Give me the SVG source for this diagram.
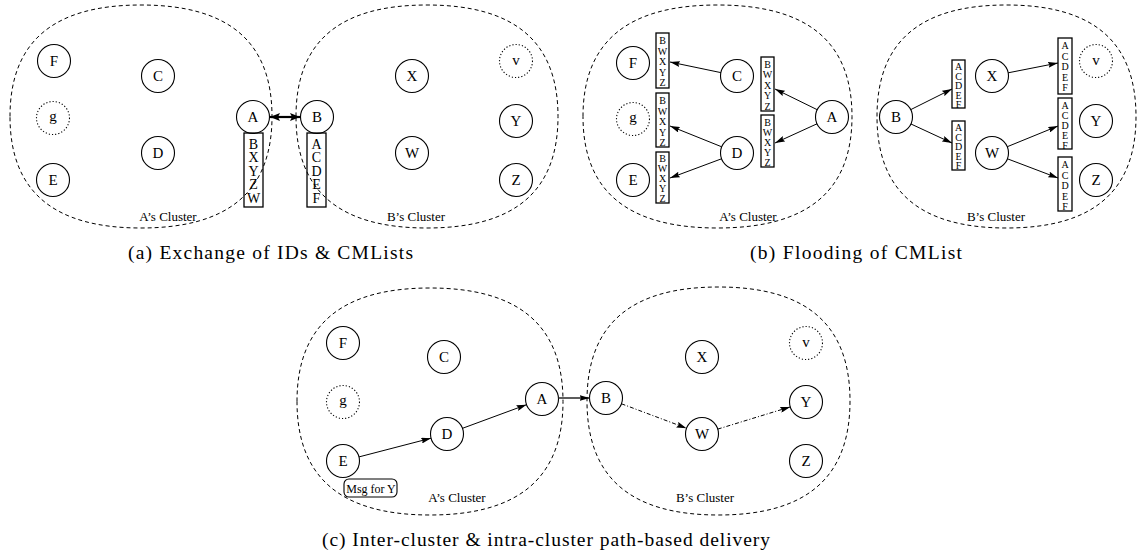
<svg xmlns="http://www.w3.org/2000/svg" width="1138" height="557" viewBox="0 0 1138 557">
<style>
text{font-family:"Liberation Serif","Times New Roman",Tinos,"DejaVu Serif","Noto Serif",Times,serif;fill:#000}
.blob{fill:none;stroke:#000;stroke-width:1;stroke-dasharray:4 3}
.n{fill:none;stroke:#000;stroke-width:1.1}
.nd{fill:none;stroke:#000;stroke-width:1.1;stroke-dasharray:1.2 2}
.t{font-size:15px;text-anchor:middle}
.cl{font-size:13px;text-anchor:middle}
.bx{fill:none;stroke:#000;stroke-width:1.3}
.bt{font-size:14px;text-anchor:middle}
.bs{font-size:10px;text-anchor:middle}
.cap{font-size:19.5px}
.e{fill:none;stroke:#000;stroke-width:1;marker-end:url(#ah)}
.dd{fill:none;stroke:#000;stroke-width:1;stroke-dasharray:4 2 1 2;marker-end:url(#ah)}
</style>
<defs>
<marker id="ah" markerUnits="userSpaceOnUse" markerWidth="10" markerHeight="6" refX="10" refY="3" orient="auto">
<path d="M0,0 L10,3 L0,6 L1.5,3 z" fill="#000"/>
</marker>
<marker id="ahb" markerUnits="userSpaceOnUse" markerWidth="10" markerHeight="8" refX="10" refY="4" orient="auto-start-reverse">
<path d="M0,0 L10,4 L0,8 L2,4 z" fill="#000"/>
</marker>
</defs>

<!-- Panel (a) -->
<g id="a-clusters">
<path class="blob" d="M10,116.5 C10,41.8 53.2,5 141,5 C228.8,5 272,41.8 272,116.5 C272,191.2 228.8,228 141,228 C53.2,228 10,191.2 10,116.5 Z"/>
<path class="blob" d="M296,116.5 C296,41.8 339.2,5 427,5 C514.8,5 558,41.8 558,116.5 C558,191.2 514.8,228 427,228 C339.2,228 296,191.2 296,116.5 Z"/>
<text class="cl" x="168" y="221">A’s Cluster</text>
<text class="cl" x="416" y="221">B’s Cluster</text>
</g>
<g id="a-F"><circle class="n" cx="54" cy="61" r="16.5"/><text class="t" x="54" y="66">F</text></g>
<g id="a-g"><circle class="nd" cx="53" cy="118" r="16.5"/><text class="t" x="53" y="121">g</text></g>
<g id="a-E"><circle class="n" cx="53" cy="180" r="16.5"/><text class="t" x="53" y="185">E</text></g>
<g id="a-C"><circle class="n" cx="158" cy="76" r="16.5"/><text class="t" x="158" y="81">C</text></g>
<g id="a-D"><circle class="n" cx="158" cy="153" r="16.5"/><text class="t" x="158" y="158">D</text></g>
<g id="a-A"><circle class="n" cx="253" cy="117" r="16.5"/><text class="t" x="253" y="122">A</text></g>
<g id="a-B"><circle class="n" cx="317" cy="117" r="16.5"/><text class="t" x="317" y="122">B</text></g>
<g id="a-X"><circle class="n" cx="412" cy="76" r="16.5"/><text class="t" x="412" y="81">X</text></g>
<g id="a-W"><circle class="n" cx="412" cy="153" r="16.5"/><text class="t" x="412" y="158">W</text></g>
<g id="a-v"><circle class="nd" cx="516" cy="61" r="16.5"/><text class="t" x="516" y="65">v</text></g>
<g id="a-Y"><circle class="n" cx="516" cy="121" r="16.5"/><text class="t" x="516" y="126">Y</text></g>
<g id="a-Z"><circle class="n" cx="516" cy="180" r="16.5"/><text class="t" x="516" y="185">Z</text></g>
<g id="a-listA">
<rect class="bx" x="244" y="133" width="19" height="74"/>
<text class="bt" x="253.5" y="149">B</text><text class="bt" x="253.5" y="162">X</text><text class="bt" x="253.5" y="176">Y</text><text class="bt" x="253.5" y="189">Z</text><text class="bt" x="253.5" y="203">W</text>
</g>
<g id="a-listB">
<rect class="bx" x="307" y="133" width="19" height="74"/>
<text class="bt" x="316.5" y="149">A</text><text class="bt" x="316.5" y="162">C</text><text class="bt" x="316.5" y="176">D</text><text class="bt" x="316.5" y="189">E</text><text class="bt" x="316.5" y="203">F</text>
</g>

<!-- Panel (b) -->
<g id="b-clusters">
<path class="blob" d="M583,116.5 C583,41.8 627.4,5 717.5,5 C807.6,5 852,41.8 852,116.5 C852,191.2 807.6,228 717.5,228 C627.4,228 583,191.2 583,116.5 Z"/>
<path class="blob" d="M877,116.5 C877,41.8 919.7,5 1006.5,5 C1093.3,5 1136,41.8 1136,116.5 C1136,191.2 1093.3,228 1006.5,228 C919.7,228 877,191.2 877,116.5 Z"/>
<text class="cl" x="748" y="221">A’s Cluster</text>
<text class="cl" x="996" y="221">B’s Cluster</text>
</g>
<g id="b-F"><circle class="n" cx="633" cy="63" r="16.5"/><text class="t" x="633" y="68">F</text></g>
<g id="b-g"><circle class="nd" cx="633" cy="119" r="16.5"/><text class="t" x="633" y="122">g</text></g>
<g id="b-E"><circle class="n" cx="633" cy="180" r="16.5"/><text class="t" x="633" y="185">E</text></g>
<g id="b-C"><circle class="n" cx="737" cy="76" r="16.5"/><text class="t" x="737" y="81">C</text></g>
<g id="b-D"><circle class="n" cx="737" cy="153" r="16.5"/><text class="t" x="737" y="158">D</text></g>
<g id="b-A"><circle class="n" cx="832" cy="117" r="16.5"/><text class="t" x="832" y="122">A</text></g>
<g id="b-B"><circle class="n" cx="896" cy="117" r="16.5"/><text class="t" x="896" y="122">B</text></g>
<g id="b-X"><circle class="n" cx="992" cy="76" r="16.5"/><text class="t" x="992" y="81">X</text></g>
<g id="b-W"><circle class="n" cx="992" cy="153" r="16.5"/><text class="t" x="992" y="158">W</text></g>
<g id="b-v"><circle class="nd" cx="1096" cy="61" r="16.5"/><text class="t" x="1096" y="65">v</text></g>
<g id="b-Y"><circle class="n" cx="1096" cy="121" r="16.5"/><text class="t" x="1096" y="126">Y</text></g>
<g id="b-Z"><circle class="n" cx="1096" cy="180" r="16.5"/><text class="t" x="1096" y="185">Z</text></g>

<g id="b-lists-A">
<rect class="bx" x="656" y="33" width="13" height="55"/>
<text class="bs" x="662.5" y="44">B</text><text class="bs" x="662.5" y="54.5">W</text><text class="bs" x="662.5" y="65">X</text><text class="bs" x="662.5" y="75.5">Y</text><text class="bs" x="662.5" y="86">Z</text>
<rect class="bx" x="656" y="93" width="13" height="54"/>
<text class="bs" x="662.5" y="104">B</text><text class="bs" x="662.5" y="114.5">W</text><text class="bs" x="662.5" y="125">X</text><text class="bs" x="662.5" y="135.5">Y</text><text class="bs" x="662.5" y="146">Z</text>
<rect class="bx" x="656" y="152" width="13" height="51"/>
<text class="bs" x="662.5" y="162">B</text><text class="bs" x="662.5" y="172">W</text><text class="bs" x="662.5" y="182">X</text><text class="bs" x="662.5" y="192">Y</text><text class="bs" x="662.5" y="202">Z</text>
<rect class="bx" x="761" y="57" width="13" height="54"/>
<text class="bs" x="767.5" y="67.5">B</text><text class="bs" x="767.5" y="78">W</text><text class="bs" x="767.5" y="88.5">X</text><text class="bs" x="767.5" y="99">Y</text><text class="bs" x="767.5" y="109.5">Z</text>
<rect class="bx" x="761" y="115" width="13" height="52"/>
<text class="bs" x="767.5" y="125.5">B</text><text class="bs" x="767.5" y="136">W</text><text class="bs" x="767.5" y="146">X</text><text class="bs" x="767.5" y="156">Y</text><text class="bs" x="767.5" y="166">Z</text>
</g>
<g id="b-lists-B">
<rect class="bx" x="952" y="60" width="13" height="48"/>
<text class="bs" x="958.5" y="70">A</text><text class="bs" x="958.5" y="79.5">C</text><text class="bs" x="958.5" y="89">D</text><text class="bs" x="958.5" y="98.5">E</text><text class="bs" x="958.5" y="108">F</text>
<rect class="bx" x="952" y="121" width="13" height="49"/>
<text class="bs" x="958.5" y="131">A</text><text class="bs" x="958.5" y="140.5">C</text><text class="bs" x="958.5" y="150">D</text><text class="bs" x="958.5" y="159.5">E</text><text class="bs" x="958.5" y="169">F</text>
<rect class="bx" x="1058" y="38" width="14" height="56"/>
<text class="bs" x="1065" y="49">A</text><text class="bs" x="1065" y="59.5">C</text><text class="bs" x="1065" y="70">D</text><text class="bs" x="1065" y="80.5">E</text><text class="bs" x="1065" y="91">F</text>
<rect class="bx" x="1058" y="98" width="14" height="51"/>
<text class="bs" x="1065" y="108.5">A</text><text class="bs" x="1065" y="118.5">C</text><text class="bs" x="1065" y="128.5">D</text><text class="bs" x="1065" y="138.5">E</text><text class="bs" x="1065" y="148.5">F</text>
<rect class="bx" x="1058" y="157" width="14" height="54"/>
<text class="bs" x="1065" y="168">A</text><text class="bs" x="1065" y="178.5">C</text><text class="bs" x="1065" y="189">D</text><text class="bs" x="1065" y="199.5">E</text><text class="bs" x="1065" y="210">F</text>
</g>

<!-- Panel (c) -->
<g id="c-clusters">
<path class="blob" d="M297,401.5 C297,325.5 340.9,288 430,288 C519.1,288 563,325.5 563,401.5 C563,477.5 519.1,515 430,515 C340.9,515 297,477.5 297,401.5 Z"/>
<path class="blob" d="M587,401 C587,324.6 630.4,287 718.5,287 C806.6,287 850,324.6 850,401 C850,477.4 806.6,515 718.5,515 C630.4,515 587,477.4 587,401 Z"/>
<text class="cl" x="457" y="502">A’s Cluster</text>
<text class="cl" x="705" y="502">B’s Cluster</text>
</g>
<g id="c-F"><circle class="n" cx="343" cy="343" r="16.5"/><text class="t" x="343" y="348">F</text></g>
<g id="c-g"><circle class="nd" cx="343" cy="402" r="16.5"/><text class="t" x="343" y="405">g</text></g>
<g id="c-E"><circle class="n" cx="343" cy="461" r="16.5"/><text class="t" x="343" y="466">E</text></g>
<g id="c-C"><circle class="n" cx="444" cy="357" r="16.5"/><text class="t" x="444" y="362">C</text></g>
<g id="c-D"><circle class="n" cx="447" cy="434" r="16.5"/><text class="t" x="447" y="439">D</text></g>
<g id="c-A"><circle class="n" cx="542" cy="399" r="16.5"/><text class="t" x="542" y="404">A</text></g>
<g id="c-B"><circle class="n" cx="606" cy="398" r="16.5"/><text class="t" x="606" y="403">B</text></g>
<g id="c-X"><circle class="n" cx="702" cy="357" r="16.5"/><text class="t" x="702" y="362">X</text></g>
<g id="c-W"><circle class="n" cx="702" cy="434" r="16.5"/><text class="t" x="702" y="439">W</text></g>
<g id="c-v"><circle class="nd" cx="806" cy="343" r="16.5"/><text class="t" x="806" y="347">v</text></g>
<g id="c-Y"><circle class="n" cx="806" cy="402" r="16.5"/><text class="t" x="806" y="407">Y</text></g>
<g id="c-Z"><circle class="n" cx="806" cy="461" r="16.5"/><text class="t" x="806" y="466">Z</text></g>
<g id="c-msg">
<rect x="344" y="479" width="53" height="18" rx="5" ry="5" fill="none" stroke="#000" stroke-width="1.1"/>
<text x="371" y="492.5" font-size="12" text-anchor="middle">Msg for Y</text>
</g>

<!-- Connectors -->
<g id="connectors">
<line x1="270" y1="117" x2="300" y2="117" stroke="#000" stroke-width="2.2" marker-start="url(#ahb)" marker-end="url(#ahb)"/>
<line class="e" x1="720.8" y1="72.6" x2="670" y2="62"/>
<line class="e" x1="721.7" y1="146.8" x2="670" y2="126"/>
<line class="e" x1="721.5" y1="158.8" x2="670" y2="178"/>
<line class="e" x1="817.2" y1="109.7" x2="775" y2="89"/>
<line class="e" x1="817" y1="123.8" x2="775" y2="143"/>
<line class="e" x1="910.8" y1="109.6" x2="952" y2="89"/>
<line class="e" x1="911" y1="124" x2="952" y2="143"/>
<line class="e" x1="1008.2" y1="72.8" x2="1058" y2="63"/>
<line class="e" x1="1007.3" y1="146.7" x2="1058" y2="126"/>
<line class="e" x1="1007.4" y1="158.8" x2="1058" y2="178"/>
<line class="e" x1="359" y1="456.9" x2="431" y2="438.2"/>
<line class="e" x1="462.5" y1="428.3" x2="526.5" y2="404.7"/>
<line x1="558.5" y1="398" x2="589.5" y2="398" stroke="#333" stroke-width="1.6" marker-end="url(#ah)"/>
<line class="dd" x1="621.5" y1="403.8" x2="686.5" y2="428.2"/>
<line class="dd" x1="717.8" y1="429.1" x2="790.2" y2="406.9"/>
</g>

<!-- Captions -->
<text class="cap" x="128" y="259" textLength="285" lengthAdjust="spacing">(a)  Exchange of IDs &amp; CMLists</text>
<text class="cap" x="750" y="259" textLength="212" lengthAdjust="spacing">(b)  Flooding of CMList</text>
<text class="cap" x="322" y="546" textLength="448" lengthAdjust="spacing">(c)  Inter-cluster &amp; intra-cluster path-based delivery</text>
</svg>
